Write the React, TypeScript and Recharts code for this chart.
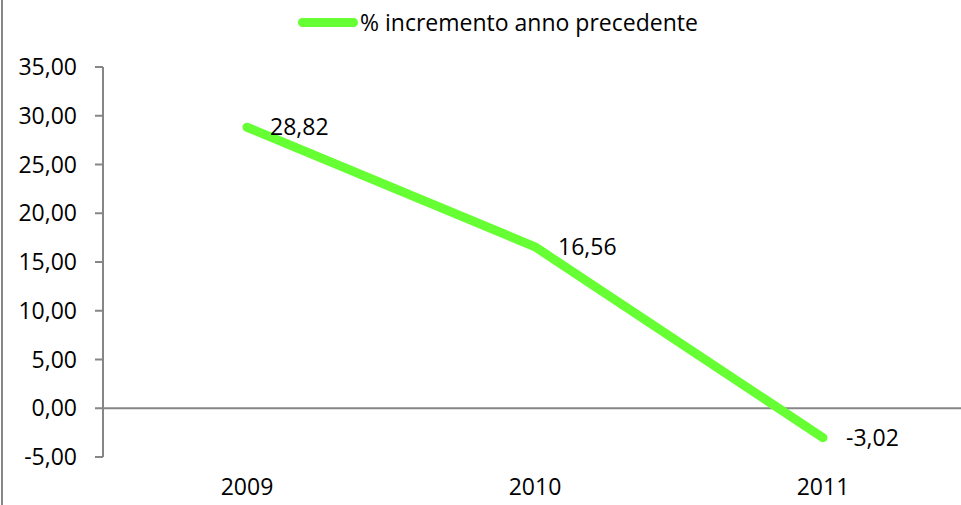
import { LineChart, Line, XAxis, YAxis, ReferenceLine, LabelList } from "recharts";

const years = ["2009", "2010", "2011"];
const increments = [28.82, 16.56, -3.02];
const yTicks = [-5, 0, 5, 10, 15, 20, 25, 30, 35];
const seriesName = "% incremento anno precedente";

const data = years.map((year, i) => ({ year, value: increments[i] }));

const GREEN = "#66ff33";
const AXIS = "#868686";
const FONT = "'Open Sans', sans-serif";

const fmt = (v: number) => v.toFixed(2).replace(".", ",");

function LegendBox() {
  return (
    <div style={{ position: "absolute", left: 298, top: 6, display: "flex", alignItems: "center", fontFamily: FONT, fontSize: 23, color: "#000", whiteSpace: "nowrap" }}>
      <span style={{ display: "inline-block", width: 60, height: 9, borderRadius: 5, background: GREEN, marginRight: 2 }} />
      <span>{seriesName}</span>
    </div>
  );
}

export default function App() {
  return (
    <div style={{ position: "fixed", left: 0, top: 0, width: 961, height: 505, overflow: "hidden", background: "#fff" }}>
      <div style={{ position: "absolute", left: 1, top: 0, width: 2, height: 505, background: AXIS }} />
      <LineChart width={975} height={505} data={data} margin={{ top: 67, right: 8, bottom: 0, left: 0 }}>
        <XAxis
          dataKey="year"
          height={48}
          axisLine={false}
          tickLine={false}
          tickSize={0}
          tickMargin={22}
          padding={{ left: 144, right: 144 }}
          tick={{ fill: "#000", fontSize: 23, fontFamily: FONT }}
        />
        <YAxis
          width={103}
          domain={[-5, 35]}
          ticks={yTicks}
          tickFormatter={fmt}
          tickSize={8}
          tickMargin={18}
          axisLine={{ stroke: AXIS, strokeWidth: 2 }}
          tickLine={{ stroke: AXIS, strokeWidth: 2 }}
          tick={{ fill: "#000", fontSize: 23, fontFamily: FONT }}
          interval={0}
        />
        <ReferenceLine y={0} stroke={AXIS} strokeWidth={2} />
        <Line
          name={seriesName}
          dataKey="value"
          stroke={GREEN}
          strokeWidth={9}
          strokeLinecap="round"
          strokeLinejoin="round"
          dot={false}
          activeDot={false}
          isAnimationActive={false}
        >
          <LabelList
            dataKey="value"
            position="right"
            offset={23}
            formatter={(v: number) => fmt(v)}
            style={{ fill: "#000", fontSize: 23, fontFamily: FONT }}
          />
        </Line>
      </LineChart>
      <LegendBox />
    </div>
  );
}
